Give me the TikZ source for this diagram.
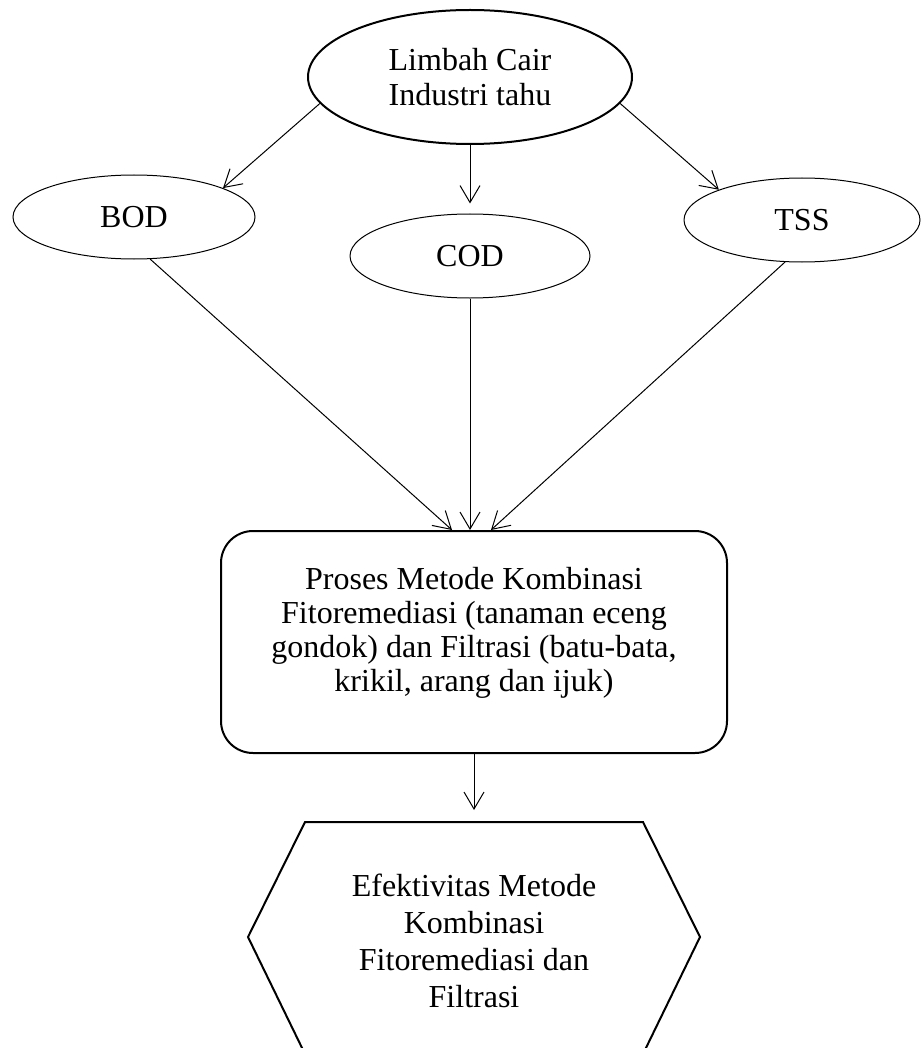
\documentclass[tikz,border=0pt]{standalone}
\usepackage{fontspec}
\setmainfont{Liberation Serif}
\usepackage{tikz}
\usetikzlibrary{shapes.geometric, positioning, arrows.meta}

\tikzset{
	oval/.style={draw, ellipse, line width=0.5pt, inner sep=0pt, minimum width=120pt, minimum height=42pt},
	arr/.style={-{Straight Barb[length=8.5pt,width=10pt]}, line width=0.5pt},
	txt/.style={align=center, inner sep=0pt},
}

\begin{document}
\begin{tikzpicture}[x=0.5pt, y=-0.5pt, font=\fontsize{16}{17.5}\selectfont]
		\useasboundingbox (0,0) rectangle (922,1048);
		% Source
		\node[oval, line width=1pt, minimum width=162pt, minimum height=67pt, align=center] (limbah) at (470,77) {Limbah Cair\\Industri tahu};
		% Parameters
		\node[oval, minimum width=121pt] (bod) at (134,217) {BOD};
		\node[oval] (cod) at (470,256) {COD};
		\node[oval, minimum width=118pt] (tss) at (802,220) {TSS};
		% Process box
		\node[draw, rounded corners=16pt, line width=1pt, minimum width=253pt, minimum height=111pt] (proses) at (474,642) {};
		\node[txt, font=\fontsize{16}{17}\selectfont] (prosestxt) at (474,633) {Proses Metode Kombinasi\\Fitoremediasi (tanaman eceng\\gondok) dan Filtrasi (batu-bata,\\krikil, arang dan ijuk)};
		% Result hexagon
		\coordinate (hextop) at (474,822);
		\draw[line width=1pt] (305,822) -- (643,822) -- (700,937) -- (643,1054) -- (305,1054) -- (248,937) -- cycle;
		\node[txt, font=\fontsize{16}{18.5}\selectfont] (eff) at (474,941) {Efektivitas Metode\\Kombinasi\\Fitoremediasi dan\\Filtrasi};
		% Arrows
		\draw[arr] (limbah.190) -- (bod.18);
		\draw[arr, shorten >=5pt] (limbah) -- (cod);
		\draw[arr] (limbah.-10) -- (tss.160);
		\draw[arr] (bod.-69) -- ([xshift=-11pt]proses.north);
		\draw[arr] (cod.south) -- (cod.south |- proses.north);
		\draw[arr] (tss.248) -- ([xshift=8.5pt]proses.north);
		\draw[arr, shorten >=6pt] (proses) -- (hextop);
	\end{tikzpicture}
\end{document}
